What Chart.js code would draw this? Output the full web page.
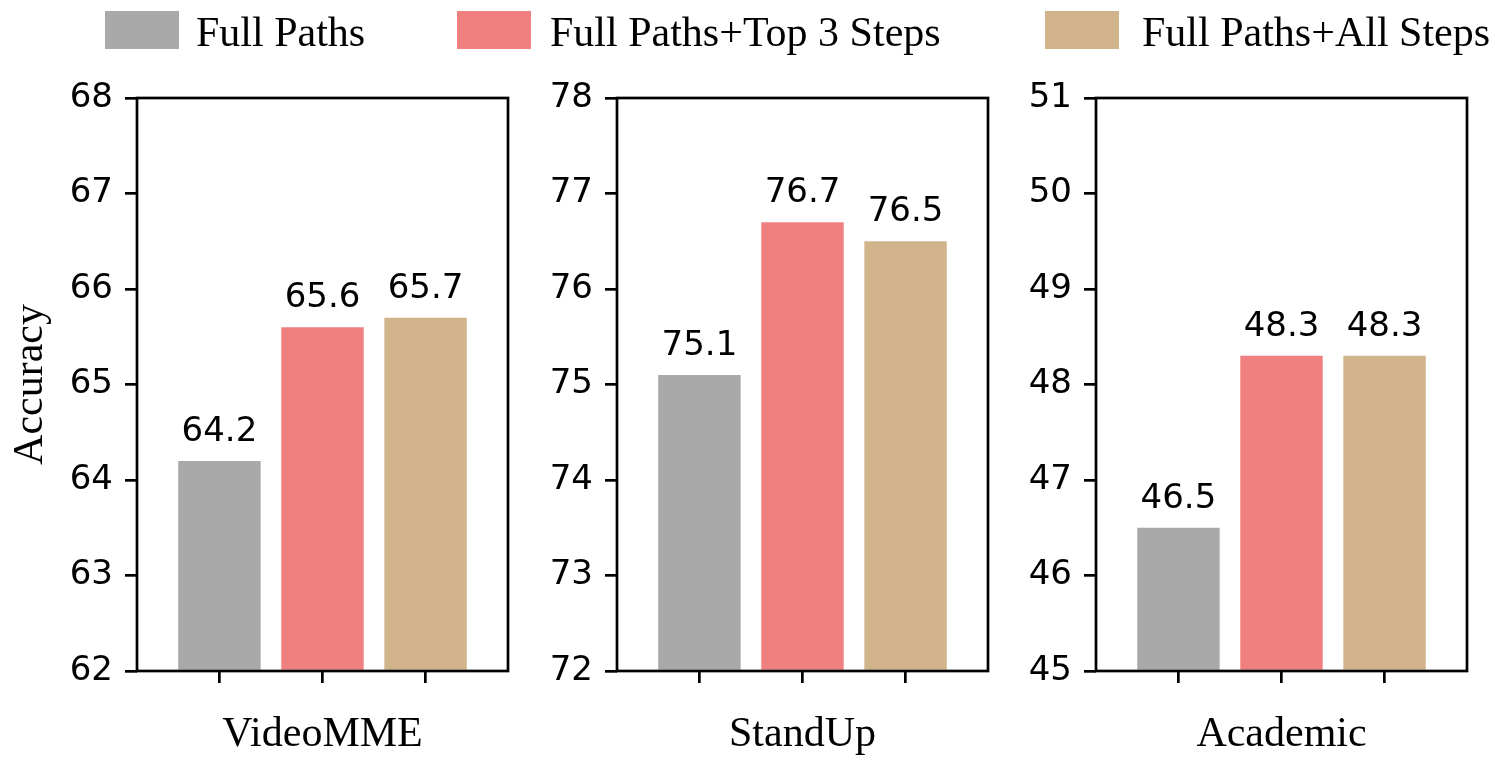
<!DOCTYPE html>
<html>
<head>
<meta charset="utf-8">
<script src="https://cdn.jsdelivr.net/npm/chart.js@4.4.1/dist/chart.umd.min.js"></script>
<style>
html,body{margin:0;padding:0;background:#fff;}
#wrap{position:relative;width:1495px;height:766px;overflow:hidden;background:#fff;}
#wrap canvas{position:absolute;left:0;top:0;}
.sw{position:absolute;top:11px;width:74px;height:38px;}
.lt{position:absolute;top:8px;height:48px;line-height:48px;font-family:'Liberation Serif','Times New Roman',serif;font-size:42px;color:#000;white-space:nowrap;}
</style>
</head>
<body>
<div id="wrap">
  <canvas id="c0" width="1495" height="766"></canvas>
  <canvas id="c1" width="1495" height="766"></canvas>
  <canvas id="c2" width="1495" height="766"></canvas>
  <div id="legend"></div>
</div>
<script>
// ---- data ----
const categories = ['VideoMME', 'StandUp', 'Academic'];
const seriesNames = ['Full Paths', 'Full Paths+Top 3 Steps', 'Full Paths+All Steps'];
const fullPaths = [64.2, 75.1, 46.5];
const top3Steps = [65.6, 76.7, 48.3];
const allSteps  = [65.7, 76.5, 48.3];
const yMin = [62, 72, 45];
const yMax = [68, 78, 51];
const yLabel = 'Accuracy';

// ---- styles / layout ----
const seriesValues = [fullPaths, top3Steps, allSteps];
const seriesColors = ['#A9A9A9', '#F08080', '#D2B48C'];
const PAGE_W = 1495, PAGE_H = 766;
const panelLeft = [137, 617, 1096];
const panelRight = [508, 988, 1467];
const plotTop = 98, plotBottom = 671;
const legendSwatchX = [105, 457, 1045];
const legendTextX = [196, 550, 1142];

// legend (HTML)
const legend = document.getElementById('legend');
seriesNames.forEach((name, j) => {
  const sw = document.createElement('div');
  sw.className = 'sw';
  sw.style.left = legendSwatchX[j] + 'px';
  sw.style.background = seriesColors[j];
  legend.appendChild(sw);
  const t = document.createElement('div');
  t.className = 'lt';
  t.style.left = legendTextX[j] + 'px';
  t.textContent = name;
  legend.appendChild(t);
});

const valueLabels = {
  id: 'valueLabels',
  afterDatasetsDraw(chart) {
    const ctx = chart.ctx;
    ctx.save();
    ctx.font = '34px "DejaVu Sans"';
    ctx.fillStyle = '#000';
    ctx.textAlign = 'center';
    ctx.textBaseline = 'alphabetic';
    chart.data.datasets.forEach((ds, di) => {
      chart.getDatasetMeta(di).data.forEach((el, k) => {
        ctx.fillText(ds.data[k].y.toFixed(1), el.x, el.y - 20);
      });
    });
    ctx.restore();
  }
};

const frame = {
  id: 'frame',
  afterDraw(chart) {
    const {left, top, right, bottom} = chart.chartArea;
    const ctx = chart.ctx;
    ctx.save();
    ctx.strokeStyle = '#000';
    ctx.lineWidth = 2.7;
    ctx.strokeRect(left, top, right - left, bottom - top);
    ctx.restore();
  }
};

const tickFont = {family: 'DejaVu Sans', size: 34};
const titleFont = {family: 'Liberation Serif', size: 42, lineHeight: 1};
const xAxisH = PAGE_H - plotBottom;

categories.forEach((cat, i) => {
  const yAxisW = i === 0 ? 127 : 100;
  new Chart(document.getElementById('c' + i), {
    type: 'bar',
    data: {
      datasets: seriesNames.map((name, j) => ({
        label: name,
        data: [{x: j, y: seriesValues[j][i]}],
        backgroundColor: seriesColors[j],
        borderWidth: 0,
        grouped: false,
        categoryPercentage: 0.8,
        barPercentage: 1.0,
        base: yMin[i]
      }))
    },
    options: {
      responsive: false,
      animation: false,
      devicePixelRatio: 1,
      layout: {padding: {left: panelLeft[i] - yAxisW, right: PAGE_W - panelRight[i], top: plotTop, bottom: 0}},
      plugins: {legend: {display: false}, tooltip: {enabled: false}, title: {display: false}},
      scales: {
        x: {
          type: 'linear', min: -0.8, max: 2.8, offset: false,
          grid: {offset: false, drawOnChartArea: false, drawTicks: true, tickLength: 12, color: '#000', lineWidth: 2.7},
          border: {display: false},
          ticks: {display: false},
          afterBuildTicks: s => { s.ticks = seriesNames.map((_, j) => ({value: j})); },
          afterFit: s => { s.height = xAxisH; s.paddingLeft = 0; s.paddingRight = 0; },
          title: {display: true, text: cat, color: '#000', font: titleFont, padding: {top: 0, bottom: 10}}
        },
        y: {
          min: yMin[i], max: yMax[i],
          ticks: {stepSize: 1, font: tickFont, color: '#000', padding: 12},
          grid: {drawOnChartArea: false, drawTicks: true, tickLength: 12, color: '#000', lineWidth: 2.7},
          border: {display: false},
          afterFit: s => { s.width = yAxisW; s.paddingTop = 0; s.paddingBottom = 0; },
          title: i === 0 ? {display: true, text: yLabel, color: '#000', font: titleFont, padding: {top: 0, bottom: 0}} : {display: false}
        }
      }
    },
    plugins: [valueLabels, frame]
  });
});
</script>
</body>
</html>
